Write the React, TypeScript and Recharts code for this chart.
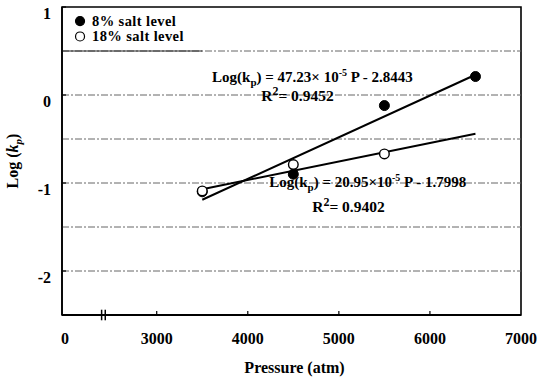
import React from 'react';
import {
  ComposedChart,
  XAxis,
  YAxis,
  Line,
  Scatter,
  ReferenceLine,
  ReferenceArea,
  ReferenceDot,
} from 'recharts';

// ---- data ----
const xTicks = [1960, 3000, 4000, 5000, 6000, 7000];
const xTickLabels = ['0', '3000', '4000', '5000', '6000', '7000'];
const yTicks = [-2, -1, 0, 1];
const gridValues = [-2, -1.5, -1, -0.5, 0, 0.5];

const salt8 = [
  { P: 3500, logKp: -1.1 },
  { P: 4500, logKp: -0.9 },
  { P: 5500, logKp: -0.12 },
  { P: 6500, logKp: 0.21 },
];
const salt18 = [
  { P: 3500, logKp: -1.09 },
  { P: 4500, logKp: -0.79 },
  { P: 5500, logKp: -0.67 },
];
const fit8 = [
  { P: 3500, logKp: -1.19 },
  { P: 6500, logKp: 0.23 },
];
const fit18 = [
  { P: 3500, logKp: -1.07 },
  { P: 6500, logKp: -0.44 },
];

const FONT = '"Liberation Serif", "Times New Roman", serif';

const XTick = (props: any) => {
  const { x, y, payload } = props;
  const i = xTicks.indexOf(payload.value);
  const label = xTickLabels[i] ?? String(payload.value);
  const inner = i > 0 && i < xTicks.length - 1;
  return (
    <g>
      {inner && <line x1={x} x2={x} y1={y} y2={y - 4} stroke="#000" strokeWidth={1.2} />}
      <text
        x={i === 0 ? x + 3 : x}
        y={y + 29}
        textAnchor="middle"
        fontFamily={FONT}
        fontWeight="bold"
        fontSize={16}
        fill="#000"
      >
        {label}
      </text>
    </g>
  );
};

const YTick = (props: any) => {
  const { x, y, payload } = props;
  return (
    <g>
      <line x1={x} x2={x + 4} y1={y} y2={y} stroke="#000" strokeWidth={1.2} />
      <text
        x={x - 11}
        y={y + 11.5}
        textAnchor="end"
        fontFamily={FONT}
        fontWeight="bold"
        fontSize={16}
        fill="#000"
      >
        {String(payload.value)}
      </text>
    </g>
  );
};

const filledDot = (p: any) => <circle cx={p.cx} cy={p.cy} r={5} fill="#000" stroke="#000" strokeWidth={1} />;
const openDot = (p: any) => <circle cx={p.cx} cy={p.cy} r={4.8} fill="#fff" stroke="#000" strokeWidth={1.4} />;

const textStyle = { fontFamily: FONT, fontWeight: 'bold' as const, fill: '#000' };

const eqText = (slope: string, intercept: string, sep: string) => (p: any) => (
  <text x={p.cx} y={p.cy} fontSize={15} {...textStyle}>
    Log(k
    <tspan dy={4} fontSize={11}>p</tspan>
    <tspan dy={-4}>) = {slope}×{sep}10</tspan>
    <tspan dy={-6} fontSize={10}>-5</tspan>
    <tspan dy={6}> P - {intercept}</tspan>
  </text>
);

const r2Text = (value: string) => (p: any) => (
  <text x={p.cx} y={p.cy} fontSize={15.5} {...textStyle}>
    R
    <tspan dy={-6} fontSize={12}>2</tspan>
    <tspan dy={6}>= {value}</tspan>
  </text>
);

const legendItem = (label: string, filled: boolean) => (p: any) => (
  <g>
    <circle
      cx={p.cx}
      cy={p.cy}
      r={4.5}
      fill={filled ? '#000' : '#fff'}
      stroke="#000"
      strokeWidth={1.2}
    />
    <text x={p.cx + 12} y={p.cy + 5} fontSize={14.5} letterSpacing={0.4} {...textStyle}>
      {label}
    </text>
  </g>
);

export default function App() {
  return (
    <div style={{ position: 'absolute', left: 0, top: 0, background: '#fff' }}>
      <ComposedChart
        width={541}
        height={385}
        margin={{ top: 7, right: 20, bottom: 0, left: 0 }}
      >
        <XAxis
          dataKey="P"
          type="number"
          domain={[1960, 7000]}
          ticks={xTicks}
          allowDataOverflow
          interval={0}
          tickSize={0}
          tickMargin={0}
          tickLine={false}
          tick={<XTick />}
          height={70}
          axisLine={{ stroke: '#000', strokeWidth: 2 }}
          label={{
            value: 'Pressure (atm)',
            position: 'insideBottom',
            offset: 12,
            dx: 3,
            style: { fontFamily: FONT, fontWeight: 'bold', fontSize: 16, fill: '#000' },
          }}
        />
        <YAxis
          dataKey="logKp"
          type="number"
          domain={[-2.5, 1]}
          ticks={yTicks}
          allowDataOverflow
          interval={0}
          tickSize={0}
          tickMargin={0}
          tickLine={false}
          tick={<YTick />}
          width={62}
          axisLine={{ stroke: '#000', strokeWidth: 1.6 }}
          label={(props: any) => {
            const vb = props.viewBox || {};
            const cx = 18;
            const cy = (vb.y ?? 7) + (vb.height ?? 308) / 2;
            return (
              <text
                x={cx}
                y={cy}
                transform={`rotate(-90 ${cx} ${cy})`}
                textAnchor="middle"
                fontSize={16}
                {...textStyle}
              >
                Log (<tspan fontStyle="italic">k</tspan>
                <tspan dy={4} fontSize={11} fontStyle="italic">p</tspan>
                <tspan dy={-4}>)</tspan>
              </text>
            );
          }}
        />

        {gridValues.map((v) => (
          <ReferenceLine
            key={v}
            y={v}
            stroke="#666"
            strokeWidth={1}
            strokeDasharray="7 2 2 2"
          />
        ))}
        <ReferenceLine
          segment={[
            { x: 1960, y: 0.5 },
            { x: 3500, y: 0.5 },
          ]}
          stroke="#222"
          strokeWidth={1}
        />
        <ReferenceArea
          x1={1960}
          x2={7000}
          y1={-2.5}
          y2={1}
          fill="none"
          stroke="#000"
          strokeWidth={1.6}
          ifOverflow="visible"
        />
        <ReferenceLine
          segment={[
            { x: 2395, y: -2.56 },
            { x: 2395, y: -2.44 },
          ]}
          stroke="#000"
          strokeWidth={1.5}
          ifOverflow="visible"
        />
        <ReferenceLine
          segment={[
            { x: 2435, y: -2.56 },
            { x: 2435, y: -2.44 },
          ]}
          stroke="#000"
          strokeWidth={1.5}
          ifOverflow="visible"
        />

        <Line
          data={fit8}
          dataKey="logKp"
          stroke="#000"
          strokeWidth={2}
          dot={false}
          activeDot={false}
          isAnimationActive={false}
        />
        <Line
          data={fit18}
          dataKey="logKp"
          stroke="#000"
          strokeWidth={2}
          dot={false}
          activeDot={false}
          isAnimationActive={false}
        />
        <Scatter data={salt8} shape={filledDot} isAnimationActive={false} />
        <Scatter data={salt18} shape={openDot} isAnimationActive={false} />

        <ReferenceDot x={3608} y={0.148} r={1} ifOverflow="visible" shape={eqText('47.23', '2.8443', ' ')} />
        <ReferenceDot x={4147} y={-0.068} r={1} ifOverflow="visible" shape={r2Text('0.9452')} />
        <ReferenceDot x={4235} y={-1.045} r={1} ifOverflow="visible" shape={eqText('20.95', '1.7998', '')} />
        <ReferenceDot x={4707} y={-1.33} r={1} ifOverflow="visible" shape={r2Text('0.9402')} />

        <ReferenceDot x={2158} y={0.84} r={1} ifOverflow="visible" shape={legendItem('8% salt level', true)} />
        <ReferenceDot x={2158} y={0.665} r={1} ifOverflow="visible" shape={legendItem('18% salt level', false)} />
      </ComposedChart>
    </div>
  );
}
